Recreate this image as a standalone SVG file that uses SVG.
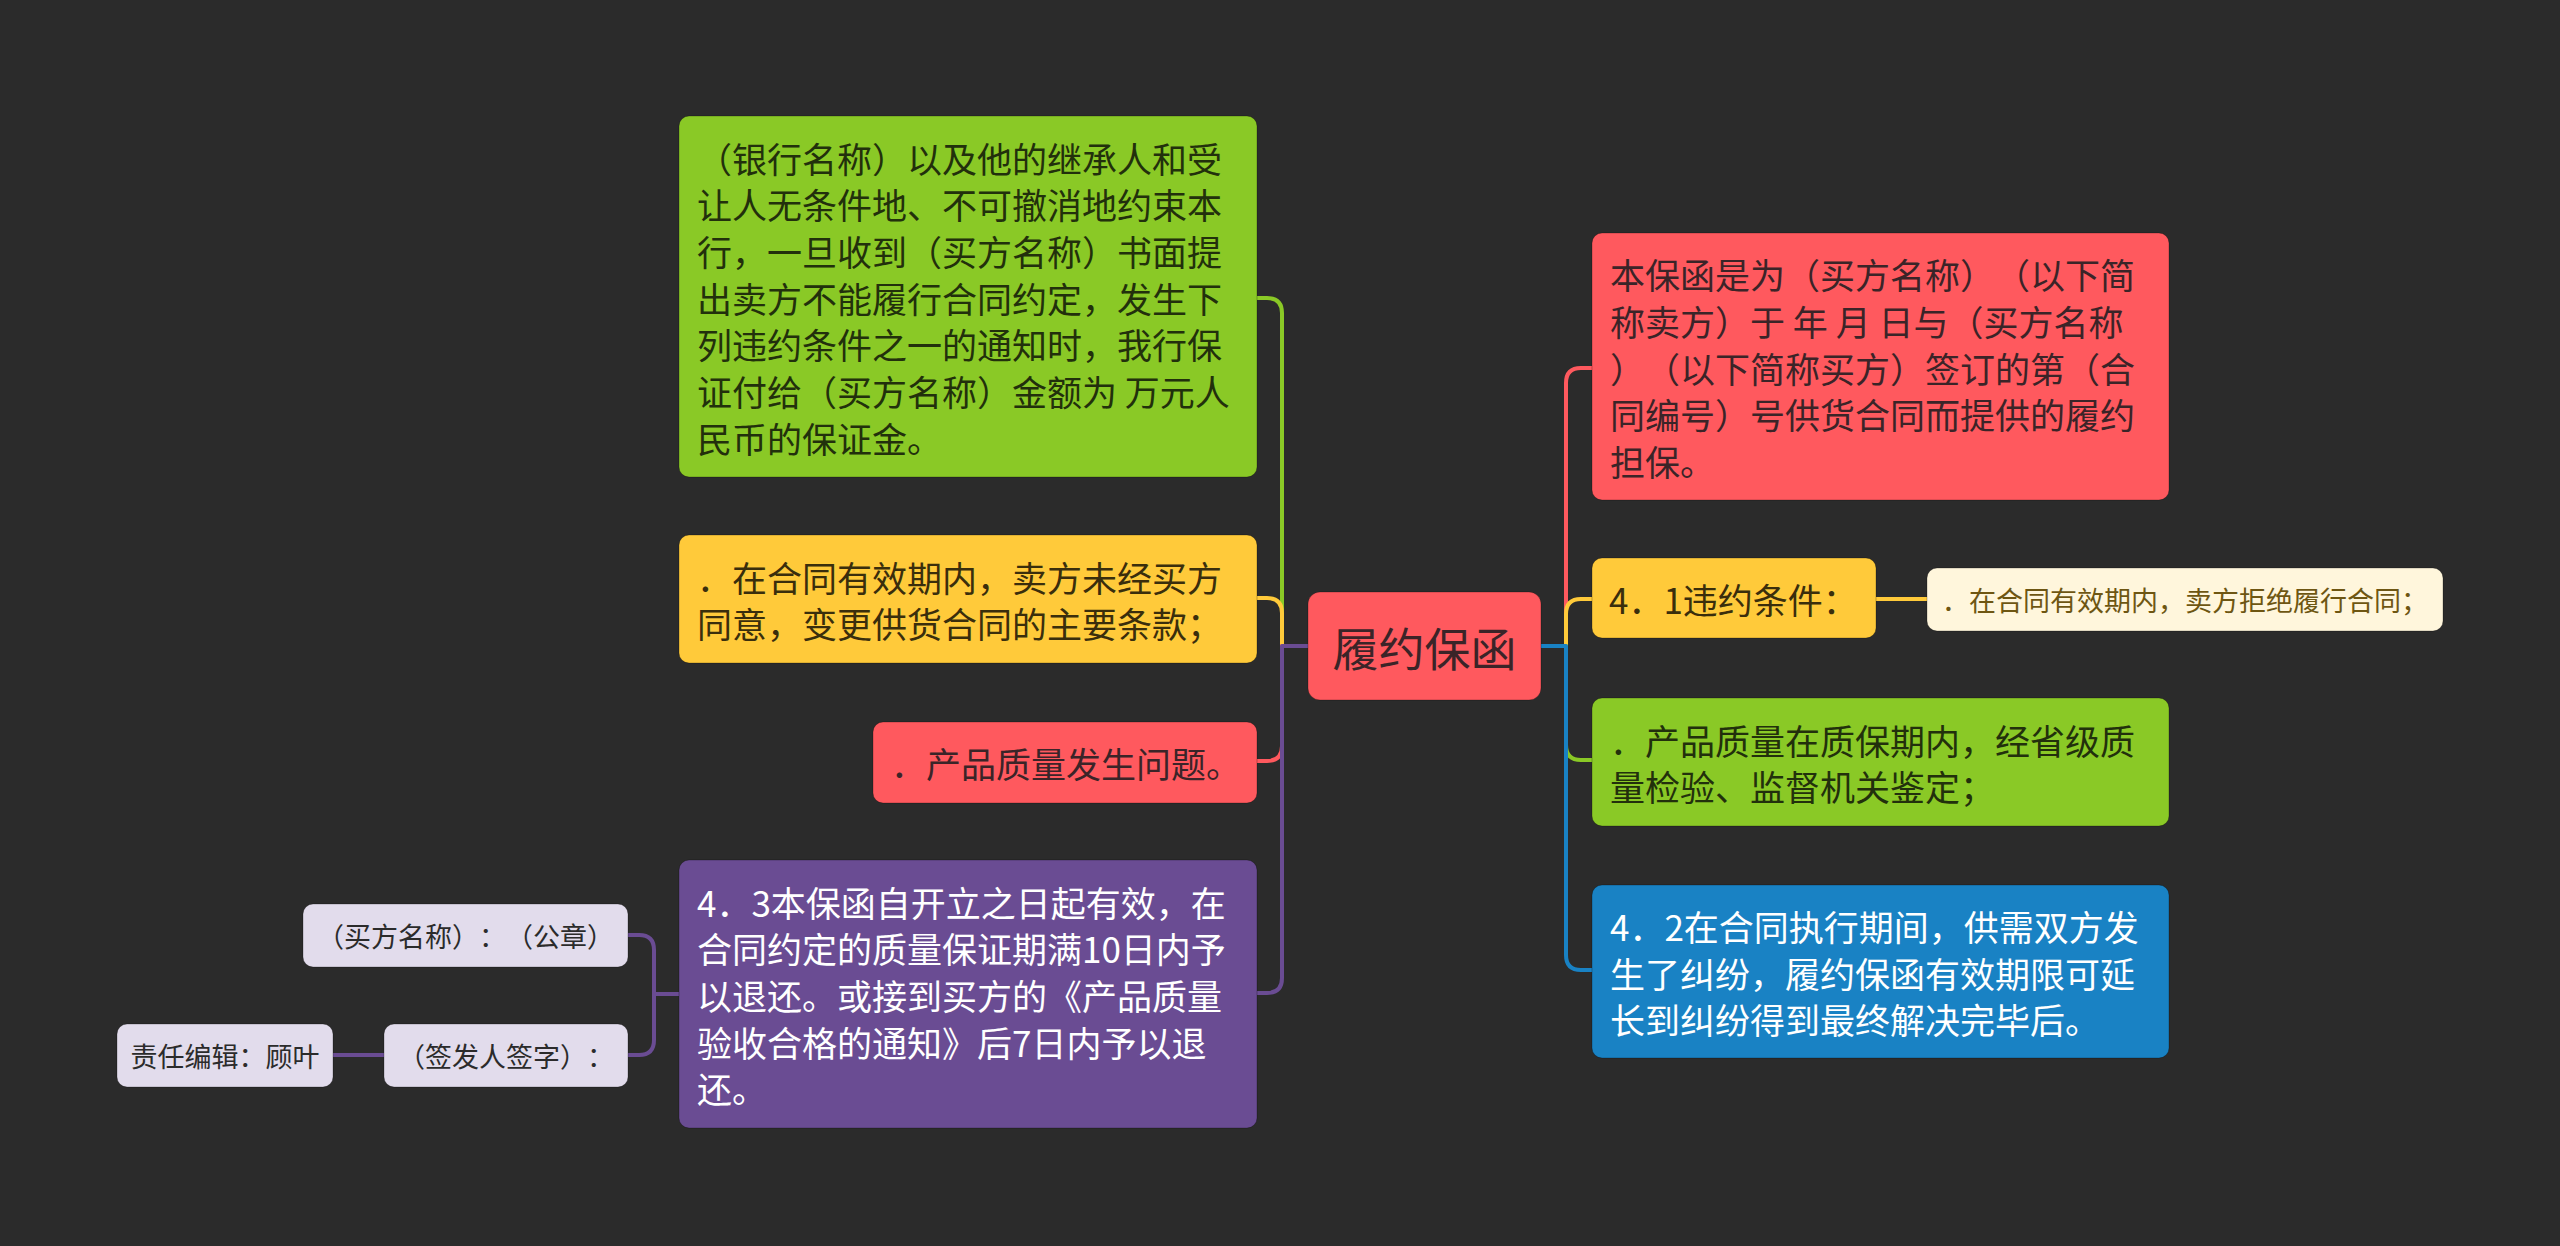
<svg xmlns="http://www.w3.org/2000/svg" width="2560" height="1246" viewBox="0 0 2560 1246">
<style>
text{font-family:"Noto Sans CJK SC","Noto Sans",sans-serif;dominant-baseline:central;font-kerning:none;text-spacing-trim:space-all}
.l2{font-size:35px}
.l3{font-size:27px}
.c{stroke-width:4;fill:none;stroke-linecap:round;stroke-linejoin:round}
.box{stroke:rgba(0,0,0,0.25);stroke-width:1}
</style>
<rect width="2560" height="1246" fill="#2b2b2b"/>
<g id="connectors">
<path class="c" stroke="#8ac926" d="M1308 646H1282V313Q1282 298 1267 298H1257"/>
<path class="c" stroke="#ffca3a" d="M1308 646H1282V613Q1282 598 1267 598H1257"/>
<path class="c" stroke="#ff595e" d="M1308 646H1282V746Q1282 761 1267 761H1257"/>
<path class="c" stroke="#6a4c93" d="M1308 646H1282V978Q1282 993 1267 993H1257"/>
<path class="c" stroke="#ff595e" d="M1541 646H1566V383Q1566 368 1581 368H1592"/>
<path class="c" stroke="#ffca3a" d="M1541 646H1566V614Q1566 599 1581 599H1592"/>
<path class="c" stroke="#8ac926" d="M1541 646H1566V745Q1566 760 1581 760H1592"/>
<path class="c" stroke="#1982c4" d="M1541 646H1566V955Q1566 970 1581 970H1592"/>
<path class="c" stroke="#ffca3a" d="M1876 599H1927"/>
<path class="c" stroke="#6a4c93" d="M680 994H654V950Q654 935 639 935H628"/>
<path class="c" stroke="#6a4c93" d="M680 994H654V1040Q654 1055 639 1055H628"/>
<path class="c" stroke="#6a4c93" d="M384 1055H333"/>
</g>
<g id="root">
<rect class="box" x="1308" y="592" width="233" height="108" rx="12" fill="#ff595e"/>
<text x="1424.5" y="646" font-size="46" text-anchor="middle" fill="#3b2428">履约保函</text>
</g>
<g id="n-left-green">
<rect class="box" x="679" y="116" width="578" height="361" rx="10" fill="#8ac926"/>
<text class="l2" fill="#22300c">
<tspan x="697" y="156.5">（银行名称）以及他的继承人和受</tspan>
<tspan x="697" y="203.2">让人无条件地、不可撤消地约束本</tspan>
<tspan x="697" y="249.8">行，一旦收到（买方名称）书面提</tspan>
<tspan x="697" y="296.5">出卖方不能履行合同约定，发生下</tspan>
<tspan x="697" y="343.2">列违约条件之一的通知时，我行保</tspan>
<tspan x="697" y="389.8">证付给（买方名称）金额为 万元人</tspan>
<tspan x="697" y="436.5">民币的保证金。</tspan>
</text>
</g>
<g id="n-left-yellow">
<rect class="box" x="679" y="535" width="578" height="128" rx="10" fill="#ffca3a"/>
<text class="l2" fill="#3a2e0c">
<tspan x="697" y="575.7">．在合同有效期内，卖方未经买方</tspan>
<tspan x="697" y="622.3">同意，变更供货合同的主要条款；</tspan>
</text>
</g>
<g id="n-left-red">
<rect class="box" x="873" y="722" width="384" height="81" rx="10" fill="#ff595e"/>
<text class="l2" x="891" y="762.5" fill="#3b2428">．产品质量发生问题。</text>
</g>
<g id="n-left-purple">
<rect class="box" x="679" y="860" width="578" height="268" rx="10" fill="#6a4c93"/>
<text class="l2" fill="#ffffff">
<tspan x="697" y="900.7">4．3本保函自开立之日起有效，在</tspan>
<tspan x="697" y="947.3">合同约定的质量保证期满10日内予</tspan>
<tspan x="697" y="994">以退还。或接到买方的《产品质量</tspan>
<tspan x="697" y="1040.7">验收合格的通知》后7日内予以退</tspan>
<tspan x="697" y="1087.3">还。</tspan>
</text>
</g>
<g id="n-sub-gongzhang">
<rect class="box" x="303" y="904" width="325" height="63" rx="10" fill="#e2dcec"/>
<text class="l3" x="465.5" y="935.5" text-anchor="middle" fill="#2b2b2b">（买方名称）：（公章）</text>
</g>
<g id="n-sub-qianzi">
<rect class="box" x="384" y="1024" width="244" height="63" rx="10" fill="#e2dcec"/>
<text class="l3" x="506" y="1055.5" text-anchor="middle" fill="#2b2b2b">（签发人签字）：</text>
</g>
<g id="n-sub-editor">
<rect class="box" x="117" y="1024" width="216" height="63" rx="10" fill="#e2dcec"/>
<text class="l3" x="225" y="1055.5" text-anchor="middle" fill="#2b2b2b">责任编辑：顾叶</text>
</g>
<g id="n-right-red">
<rect class="box" x="1592" y="233" width="577" height="267" rx="10" fill="#ff595e"/>
<text class="l2" fill="#3b2428">
<tspan x="1610" y="273.2">本保函是为（买方名称）（以下简</tspan>
<tspan x="1610" y="319.8">称卖方）于 年 月 日与（买方名称</tspan>
<tspan x="1610" y="366.5">）（以下简称买方）签订的第（合</tspan>
<tspan x="1610" y="413.2">同编号）号供货合同而提供的履约</tspan>
<tspan x="1610" y="459.8">担保。</tspan>
</text>
</g>
<g id="n-right-yellow">
<rect class="box" x="1592" y="558" width="284" height="80" rx="10" fill="#ffca3a"/>
<text class="l2" x="1609" y="598" fill="#3a2e0c">4．1违约条件：</text>
</g>
<g id="n-right-cream">
<rect class="box" x="1927" y="568" width="516" height="63" rx="10" fill="#fff6dc"/>
<text class="l3" x="2185" y="599.5" text-anchor="middle" fill="#6e5612">．在合同有效期内，卖方拒绝履行合同；</text>
</g>
<g id="n-right-green">
<rect class="box" x="1592" y="698" width="577" height="128" rx="10" fill="#8ac926"/>
<text class="l2" fill="#22300c">
<tspan x="1610" y="738.7">．产品质量在质保期内，经省级质</tspan>
<tspan x="1610" y="785.3">量检验、监督机关鉴定；</tspan>
</text>
</g>
<g id="n-right-blue">
<rect class="box" x="1592" y="885" width="577" height="173" rx="10" fill="#1982c4"/>
<text class="l2" fill="#ffffff">
<tspan x="1610" y="924.8">4．2在合同执行期间，供需双方发</tspan>
<tspan x="1610" y="971.5">生了纠纷，履约保函有效期限可延</tspan>
<tspan x="1610" y="1018">长到纠纷得到最终解决完毕后。</tspan>
</text>
</g>
</svg>
